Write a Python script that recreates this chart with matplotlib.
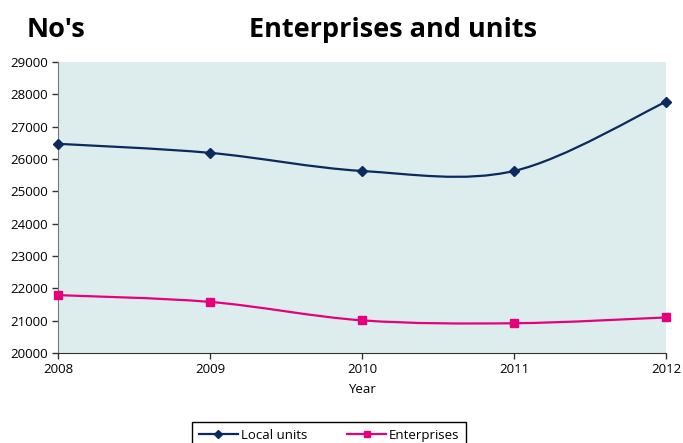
import matplotlib.pyplot as plt
from matplotlib.lines import Line2D
from matplotlib.patches import PathPatch
from matplotlib.path import Path

YEARS = [2008, 2009, 2010, 2011, 2012]
LOCAL_UNITS = [26470, 26190, 25630, 25630, 27770]
ENTERPRISES = [21790, 21580, 21010, 20920, 21100]
Y_TICKS = list(range(20000, 30000, 1000))

NAVY = "#0B2A5E"
MAGENTA = "#E5007D"
PANEL = "#DDEDED"

plt.rcParams["font.family"] = ["Open Sans", "DejaVu Sans"]


def smooth_path(xs, ys):
    """Catmull-Rom style bezier path through the points (Excel 'smoothed line')."""
    pts = list(zip(xs, ys))
    ext = [pts[0]] + pts + [pts[-1]]
    verts = [pts[0]]
    codes = [Path.MOVETO]
    for i in range(1, len(ext) - 2):
        p0, p1, p2, p3 = ext[i - 1], ext[i], ext[i + 1], ext[i + 2]
        c1 = (p1[0] + (p2[0] - p0[0]) / 6, p1[1] + (p2[1] - p0[1]) / 6)
        c2 = (p2[0] - (p3[0] - p1[0]) / 6, p2[1] - (p3[1] - p1[1]) / 6)
        verts += [c1, c2, p2]
        codes += [Path.CURVE4] * 3
    return Path(verts, codes)


fig = plt.figure(figsize=(6.83, 4.43), dpi=100)
ax = fig.add_axes([58 / 683, 90 / 443, 608 / 683, 291 / 443])
ax.set_facecolor(PANEL)

for ys, color, marker, ms in [
    (LOCAL_UNITS, NAVY, "D", 5),
    (ENTERPRISES, MAGENTA, "s", 6),
]:
    ax.add_patch(PathPatch(smooth_path(YEARS, ys), fill=False,
                           edgecolor=color, linewidth=1.6, zorder=3))
    ax.plot(YEARS, ys, linestyle="none", marker=marker, markersize=ms,
            color=color, zorder=4, clip_on=False)

ax.set_xlim(2008, 2012)
ax.set_ylim(20000, 29000)
ax.set_xticks(YEARS)
ax.set_yticks(Y_TICKS)
ax.tick_params(labelsize=9.5, length=4, width=1, color="#333333", pad=3)
ax.set_xlabel("Year", fontsize=9.5, labelpad=5)

for side in ["top", "right"]:
    ax.spines[side].set_visible(False)
ax.spines["left"].set_color("#777777")
ax.spines["bottom"].set_color("#333333")

fig.text(27 / 683, 1 - 37 / 443, "No's", fontsize=19.5, fontweight="bold")
fig.text(393 / 683, 1 - 37 / 443, "Enterprises and units", fontsize=19.5,
         fontweight="bold", ha="center")

handles = [
    Line2D([], [], color=NAVY, linewidth=1.6, marker="D", markersize=4),
    Line2D([], [], color=MAGENTA, linewidth=1.6, marker="s", markersize=5),
]
fig.legend(handles, ["Local units", "Enterprises"], loc="upper center",
           bbox_to_anchor=(329 / 683, 21 / 443), ncol=2, fontsize=9.5,
           frameon=True, fancybox=False, edgecolor="black", framealpha=1,
           borderaxespad=0, columnspacing=3, handlelength=3, handletextpad=0.2,
           borderpad=0.5)

fig.savefig("out.png", dpi=100)
